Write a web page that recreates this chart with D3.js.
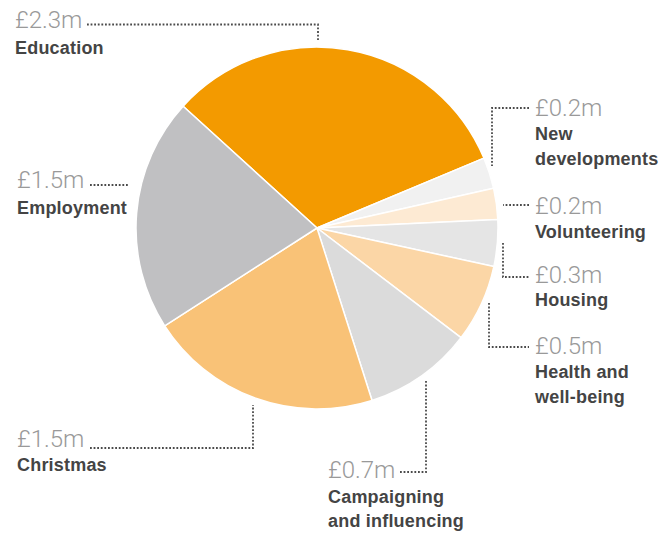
<!DOCTYPE html>
<html>
<head>
<meta charset="utf-8">
<script src="https://cdn.jsdelivr.net/npm/d3@7"></script>
<style>
  body { margin: 0; background: #fff; }
  .val { font-family: Roboto, "Liberation Sans", sans-serif; font-weight: 300; font-size: 24px; fill: #999; }
  .lab { font-family: "Liberation Sans", Arial, sans-serif; font-weight: bold; font-size: 18px; letter-spacing: 0.2px; fill: #444; }
  .leader { fill: none; stroke: #4a4a4a; stroke-width: 1.8; stroke-dasharray: 1.8 1.8; }
</style>
</head>
<body>
<div id="chart"></div>
<script>
// spending by area, £m
const categories = ['Education', 'New developments', 'Volunteering', 'Housing',
  'Health and well-being', 'Campaigning and influencing', 'Christmas', 'Employment'];
const amounts = [2.3, 0.2, 0.2, 0.3, 0.5, 0.7, 1.5, 1.5];
const valueLabels = ['£2.3m', '£0.2m', '£0.2m', '£0.3m', '£0.5m', '£0.7m', '£1.5m', '£1.5m'];
const labelLines = [['Education'], ['New', 'developments'], ['Volunteering'], ['Housing'],
  ['Health and', 'well-being'], ['Campaigning', 'and influencing'], ['Christmas'], ['Employment']];
const colours = ['#f39a00', '#f1f1f1', '#fdead3', '#e5e5e5', '#fbd6a6', '#dbdbdb', '#f9c277', '#c0c0c2'];

const width = 665, height = 534;
const cx = 317, cy = 228, radius = 181;

// where each label sits, and the dotted leader path to it
const layout = [
  { x: 15, y: 28, dy: 26, leader: [[87, 24.5], [318, 24.5], [318, 41]] },
  { x: 535, y: 116, dy: 24, leader: [[529, 108], [492, 108], [492, 166]] },
  { x: 535, y: 214, dy: 24, leader: [[529, 205], [503, 205]] },
  { x: 535, y: 283, dy: 23, leader: [[503, 243], [503, 277], [529, 277]] },
  { x: 535, y: 354, dy: 24, leader: [[489, 303], [489, 347], [529, 347]] },
  { x: 328, y: 478, dy: 24.5, leader: [[400, 472], [426, 472], [426, 380]] },
  { x: 17, y: 447, dy: 24, leader: [[90, 448], [253, 448], [253, 405]] },
  { x: 17, y: 188, dy: 26, leader: [[90, 185], [128, 185]] }
];

const data = categories.map((c, i) => ({ name: c, value: amounts[i], i: i }));

const svg = d3.select('#chart')
  .append('svg')
  .attr('width', width)
  .attr('height', height);

const start = -47.7 * Math.PI / 180;
const pie = d3.pie()
  .sort(null)
  .value(d => d.value)
  .startAngle(start)
  .endAngle(start + 2 * Math.PI);

const arc = d3.arc().innerRadius(0).outerRadius(radius);

const g = svg.append('g').attr('transform', `translate(${cx},${cy})`);

g.selectAll('path.slice')
  .data(pie(data))
  .enter()
  .append('path')
  .attr('class', 'slice')
  .attr('d', arc)
  .attr('fill', d => colours[d.data.i])
  .attr('stroke', '#fff')
  .attr('stroke-width', 1.5)
  .attr('stroke-linejoin', 'round');

const line = d3.line();

svg.selectAll('path.leader')
  .data(layout)
  .enter()
  .append('path')
  .attr('class', 'leader')
  .attr('d', d => line(d.leader));

const labels = svg.selectAll('g.label')
  .data(data)
  .enter()
  .append('g')
  .attr('class', 'label')
  .attr('transform', d => `translate(${layout[d.i].x},${layout[d.i].y})`);

labels.append('text')
  .attr('class', 'val')
  .text(d => valueLabels[d.i]);

labels.each(function(d) {
  const sel = d3.select(this);
  labelLines[d.i].forEach((t, k) => {
    sel.append('text')
      .attr('class', 'lab')
      .attr('y', layout[d.i].dy + k * 24.5)
      .text(t);
  });
});
</script>
</body>
</html>
